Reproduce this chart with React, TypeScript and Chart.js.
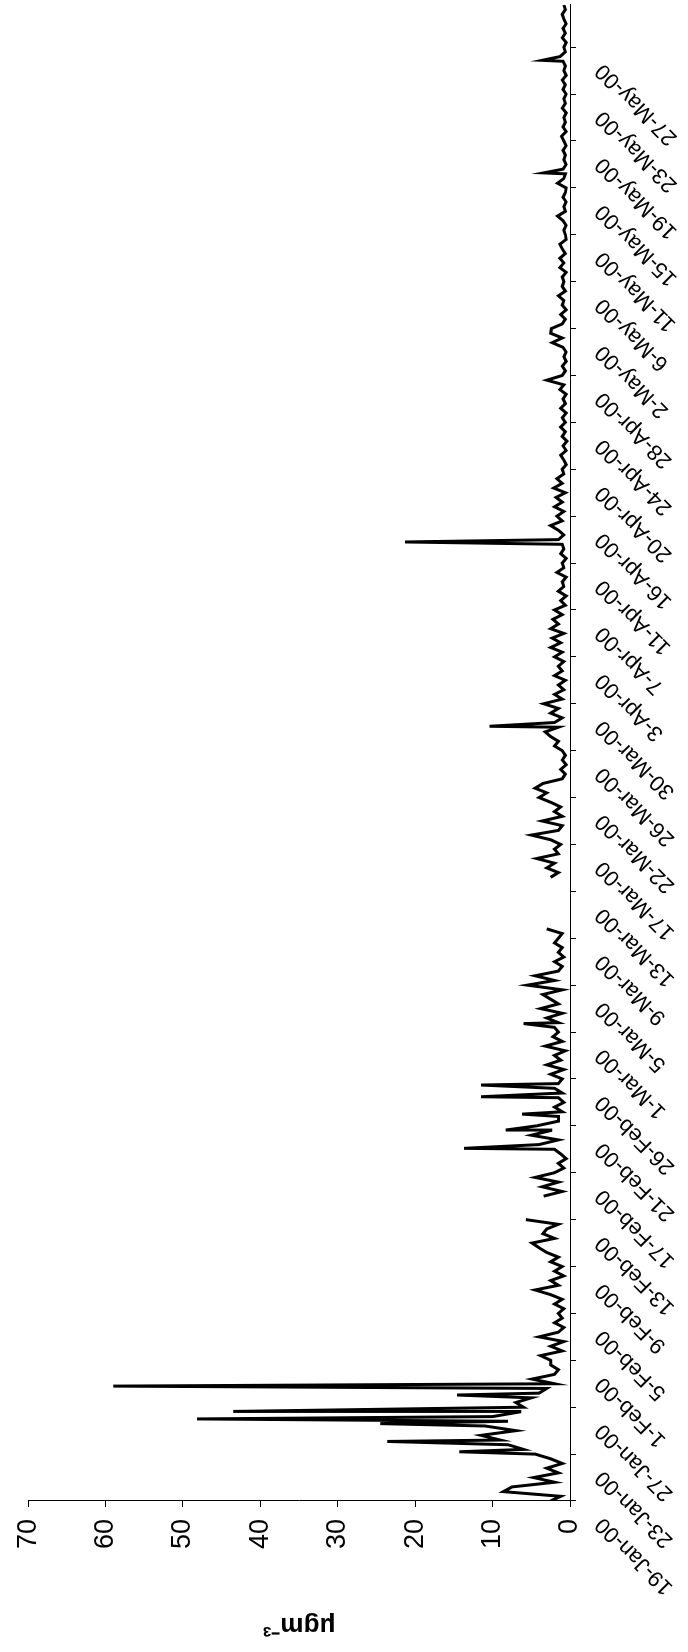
import { useEffect, useRef } from 'react';
import { Chart, registerables } from 'chart.js';

Chart.register(...registerables);

// Category tick labels (one every 4-5 days, equally spaced on the axis)
const dateLabels = [
  '19-Jan-00', '23-Jan-00', '27-Jan-00', '1-Feb-00', '5-Feb-00', '9-Feb-00', '13-Feb-00', '17-Feb-00',
  '21-Feb-00', '26-Feb-00', '1-Mar-00', '5-Mar-00', '9-Mar-00', '13-Mar-00', '17-Mar-00', '22-Mar-00',
  '26-Mar-00', '30-Mar-00', '3-Apr-00', '7-Apr-00', '11-Apr-00', '16-Apr-00', '20-Apr-00', '24-Apr-00',
  '28-Apr-00', '2-May-00', '6-May-00', '11-May-00', '15-May-00', '19-May-00', '23-May-00', '27-May-00',
];

const valueMin = 0;
const valueMax = 70;
const valueStep = 10;
const axisEnd = 31.9; // last sample position, in tick intervals

// Concentration (µg m-3), sampled every 0.1 tick interval; null = no data
const sampleStep = 0.1;
const baseValues: (number | null)[] = [
  2.5, 1.2, 8.6, 7.5, 2.0, 4.7, 1.5, 3.0, 1.0, 2.5,
  4.5, 6.0, 8.0, 9.0, 11.5, 7.0, 11.0, 8.0, 10.0, 6.5,
  6.0, 7.0, 5.0, 4.0, 3.0, 2.0, 4.9, 2.0, 1.5, 2.5,
  2.5, 3.8, 1.0, 2.5, 0.8, 4.0, 1.5, 0.8, 2.0, 1.0,
  1.5, 0.8, 2.0, 1.0, 2.5, 4.5, 1.5, 2.5, 0.8, 2.0,
  1.0, 2.5, 1.5, 3.0, 4.0, 4.9, 2.0, 3.5, 3.0, 1.5,
  5.7, null, null, null, null, 3.4, 1.0, 3.6, 1.5, 4.5,
  2.0, 0.8, 1.5, 0.5, 1.2, 2.0, 4.0, 1.5, 5.0, 2.5,
  4.3, 1.5, 1.5, 1.0, 2.0, 0.8, 1.5, 1.0, 2.0, 1.5,
  1.0, 2.5, 0.8, 3.0, 1.2, 2.0, 0.6, 3.2, 1.0, 2.2,
  1.5, 2.0, 1.5, 3.0, 1.0, 3.8, 1.5, 2.5, 3.5, 1.0,
  5.5, 2.0, 4.5, 1.5, 1.0, 2.0, 0.8, 1.5, 1.0, 2.0,
  1.5, 1.0, 3.0, null, null, null, null, null, null, null,
  null, null, null, 2.5, 1.5, 3.0, 2.0, 4.3, 1.5, 2.0,
  1.2, 2.5, 5.0, 1.5, 1.0, 3.6, 1.0, 2.0, 1.2, 2.5,
  4.0, 3.0, 4.5, 3.5, 1.0, 0.6, 1.2, 0.5, 1.0, 0.6,
  1.0, 2.0, 1.5, 2.5, 3.2, 1.5, 2.0, 1.0, 2.5, 1.5,
  3.4, 1.0, 2.0, 0.8, 1.5, 0.6, 2.0, 1.0, 1.5, 0.8,
  2.0, 1.0, 2.5, 1.2, 2.3, 0.8, 2.5, 1.5, 2.2, 1.0,
  2.0, 0.6, 1.2, 0.5, 1.5, 0.8, 1.0, 0.5, 1.7, 0.8,
  1.0, 0.5, 1.2, 0.8, 1.0, 1.5, 0.8, 1.5, 2.5, 1.0,
  1.7, 0.8, 2.0, 1.0, 1.8, 0.6, 2.1, 1.0, 1.7, 0.8,
  1.0, 0.5, 0.8, 1.2, 0.5, 0.9, 0.4, 1.0, 0.6, 1.2,
  0.6, 1.0, 0.5, 1.2, 0.6, 0.9, 0.5, 1.3, 0.8, 3.0,
  1.0, 0.6, 1.0, 0.5, 0.8, 0.5, 0.9, 2.3, 1.0, 2.5,
  2.4, 1.0, 0.6, 1.2, 0.5, 1.0, 0.8, 1.5, 0.6, 1.0,
  0.8, 1.0, 0.5, 1.3, 0.8, 1.3, 0.6, 1.0, 1.3, 0.5,
  0.6, 0.8, 0.5, 0.9, 1.6, 0.6, 0.8, 0.5, 0.9, 0.6,
  0.5, 1.6, 0.8, 0.6, 0.9, 0.5, 0.8, 0.6, 0.9, 0.5,
  0.8, 1.1, 0.5, 0.9, 0.6, 0.8, 0.5, 1.0, 0.6, 0.8,
  0.5, 0.9, 0.6, 1.0, 0.5, 0.8, 0.6, 0.9, 1.3, 0.6,
  0.8, 0.5, 1.0, 0.6, 0.9, 0.5, 0.8, 1.0, 0.6, 0.8,
];

// Short-lived peaks between samples (position in tick intervals, value)
const peakPositions = [1.05, 1.27, 1.65, 1.75, 1.91, 2.26, 2.45, 7.52, 7.91, 8.25, 8.62, 8.87, 10.18, 16.52, 20.45, 28.32, 30.72];
const peakValues = [14.3, 23.6, 24.5, 48.2, 43.5, 14.6, 59.0, 13.7, 8.3, 6.2, 11.5, 11.5, 6.0, 10.4, 21.3, 3.4, 3.6];

const fontFamily = '"Liberation Sans", Arial, sans-serif';

export default function App() {
  const canvasRef = useRef<HTMLCanvasElement>(null);

  useEffect(() => {
    const points: { x: number; y: number | null }[] = baseValues.map((v, i) => ({
      x: Math.round(i * sampleStep * 100) / 100,
      y: v,
    }));
    peakPositions.forEach((p, i) => points.push({ x: p, y: peakValues[i] }));
    points.sort((a, b) => a.x - b.x);

    const chart = new Chart(canvasRef.current as HTMLCanvasElement, {
      type: 'line',
      data: {
        datasets: [
          {
            data: points as any,
            borderColor: '#000',
            borderWidth: 3,
            pointRadius: 0,
            fill: false,
            tension: 0,
            spanGaps: false,
          },
        ],
      },
      options: {
        animation: false,
        responsive: false,
        devicePixelRatio: 1,
        layout: { padding: { top: 21, right: 5, left: 0, bottom: 0 } },
        plugins: { legend: { display: false }, tooltip: { enabled: false } },
        scales: {
          x: {
            type: 'linear',
            min: 0,
            max: axisEnd,
            afterBuildTicks: (scale: any) => {
              scale.ticks = dateLabels.map((_, i) => ({ value: i }));
            },
            afterFit: (scale: any) => {
              scale.height = 118;
            },
            ticks: {
              autoSkip: false,
              minRotation: 45,
              maxRotation: 45,
              padding: 14,
              labelOffset: -20,
              color: '#000',
              font: { family: fontFamily, size: 22 },
              callback: (v: any) => dateLabels[Math.round(Number(v))] ?? '',
            },
            grid: { drawOnChartArea: false, drawTicks: true, tickLength: 6, color: '#000' },
            border: { color: '#000', width: 1 },
          },
          y: {
            min: valueMin,
            max: valueMax,
            afterFit: (scale: any) => {
              scale.width = 151;
            },
            ticks: { stepSize: valueStep, padding: 12, color: '#000', font: { family: fontFamily, size: 27 } },
            grid: { drawOnChartArea: false, drawTicks: true, tickLength: 6, color: '#000' },
            border: { color: '#000', width: 1 },
            title: {
              display: true,
              text: 'μgm⁻³',
              color: '#000',
              padding: { top: 11, bottom: 0 },
              font: { family: fontFamily, size: 26, weight: 'bold' },
            },
          },
        },
      },
    });
    return () => chart.destroy();
  }, []);

  return (
    <div
      style={{
        position: 'absolute',
        left: 0,
        top: 0,
        width: 1652,
        height: 688,
        transformOrigin: '0 0',
        transform: 'translate(0px, 1652px) rotate(-90deg)',
        background: '#fff',
      }}
    >
      <canvas ref={canvasRef} width={1652} height={688} style={{ display: 'block', width: 1652, height: 688 }} />
    </div>
  );
}
